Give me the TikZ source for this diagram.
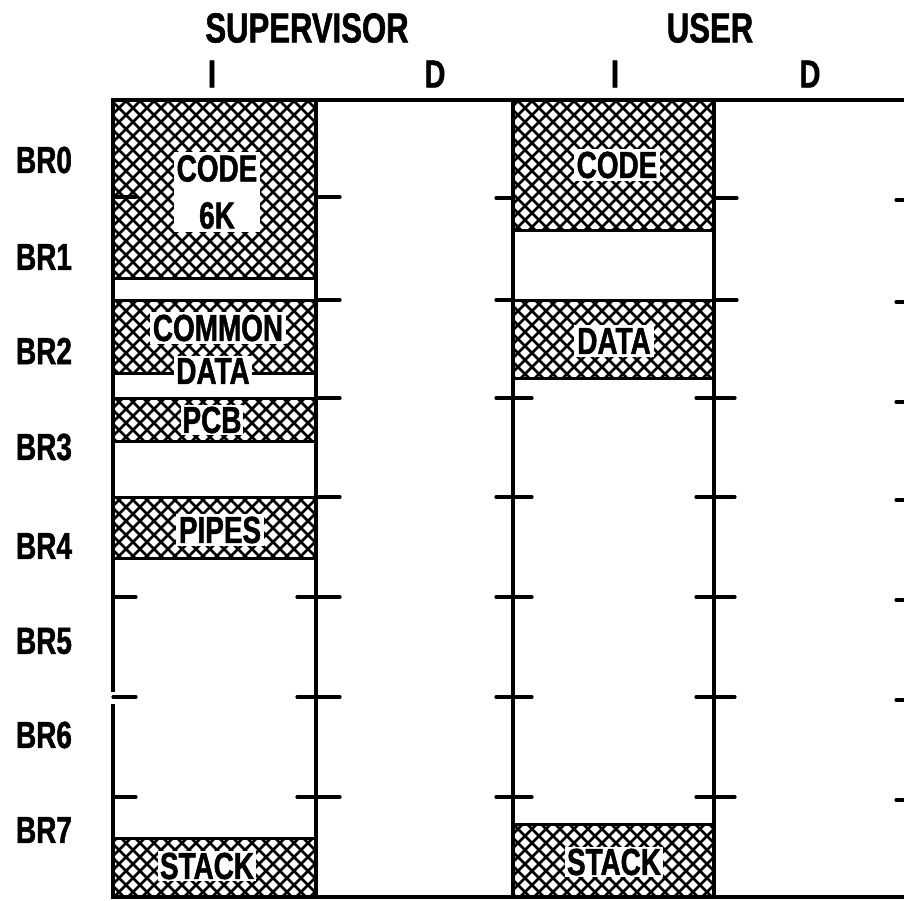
\documentclass[tikz,border=0pt]{standalone}
\usepackage{fontspec}
\newfontfamily\lab[FakeStretch=0.74, BoldFeatures={FakeBold=1.3}]{Liberation Sans}
\begin{document}
\begin{tikzpicture}[x=1pt,y=-1pt]
\tikzset{
  frame/.style={line width=4pt},
  edgeline/.style={line width=3pt},
  tickline/.style={line width=3.2pt, line cap=round},
  hatchline/.style={line width=2.6pt},
  lbl/.style={font=\lab\bfseries\fontsize{37.7}{47}\selectfont, fill=white, inner sep=3pt, align=center},
  hdr/.style={font=\lab\bfseries\fontsize{42}{50}\selectfont, inner sep=0pt},
  col/.style={font=\lab\bfseries\fontsize{39}{47}\selectfont, inner sep=0pt},
  brl/.style={font=\lab\bfseries\fontsize{37.7}{47}\selectfont, inner sep=0pt}
}
\useasboundingbox (0,0) rectangle (904,901);
\fill[white] (0,0) rectangle (904,901);

% hatching
\begin{scope}
  \clip (113,100) rectangle (316,278)
        (113,300) rectangle (316,373)
        (113,398) rectangle (316,441)
        (113,497) rectangle (316,558)
        (113,838) rectangle (316,897)
        (513,100) rectangle (714,231)
        (513,300) rectangle (714,378)
        (513,824) rectangle (714,897);
  \foreach \k in {0,...,105} {
    \pgfmathsetmacro\ca{-801+14*\k}
    \pgfmathsetmacro\cb{199+14*\k}
    \draw[hatchline] (\ca,0) -- ++(1000,1000);
    \draw[hatchline] (\cb,0) -- ++(-1000,1000);
  }
\end{scope}

% block edges (supervisor I)
\foreach \y in {278,300,373,398,441,497,558,838} {
  \draw[edgeline] (113,\y) -- (316,\y);
}
% block edges (user I)
\foreach \y in {231,300,378,824} {
  \draw[edgeline] (513,\y) -- (714,\y);
}

% outer frame and columns
\draw[frame] (113,100) -- (904,100);
\draw[frame] (113,897) -- (904,897);
\draw[frame] (113,98) -- (113,692);
\draw[frame] (113,704) -- (113,899);
\draw[frame] (316,100) -- (316,897);
\draw[frame] (513,100) -- (513,897);
\draw[frame] (714,100) -- (714,897);

% ticks x=113 (inside only)
\foreach \y in {197,597,697,797} {
  \draw[tickline] (113,\y) -- (136,\y);
}
% ticks x=316
\foreach \y in {197,300,398,497} {
  \draw[tickline] (316,\y) -- (340,\y);
}
\foreach \y in {597,697,797} {
  \draw[tickline] (297,\y) -- (340,\y);
}
% ticks x=513
\foreach \y in {198,300} {
  \draw[tickline] (496,\y) -- (513,\y);
}
\foreach \y in {398,497,597,697,797} {
  \draw[tickline] (496,\y) -- (532,\y);
}
% ticks x=714
\foreach \y in {198,300} {
  \draw[tickline] (714,\y) -- (737,\y);
}
\foreach \y in {398,497,597,697,797} {
  \draw[tickline] (696,\y) -- (735,\y);
}
% ticks at right edge
\foreach \y in {200,302,402,500,600,700,800} {
  \draw[tickline] (896,\y) -- (906,\y);
}

% labels in blocks
\node[lbl] (scode) at (217,192) {CODE\\6K};
\node[lbl] (scommon) at (218,328) {COMMON};
\node[lbl, inner sep=2pt] (sdata) at (213,371) {DATA};
\node[lbl, inner sep=2pt] (spcb) at (212,420) {PCB};
\node[lbl] (spipes) at (220,530) {PIPES};
\node[lbl, inner sep=2pt] (sstack) at (207,866) {STACK};
\node[lbl] (ucode) at (617,165) {CODE};
\node[lbl] (udata) at (614,341) {DATA};
\node[lbl, inner sep=2pt] (ustack) at (614,862) {STACK};

% headers
\node[hdr] (sup) at (307,28) {SUPERVISOR};
\node[hdr] (usr) at (710,28) {USER};
\node[col] (si) at (212,74) {I};
\node[col] (sd) at (435,74) {D};
\node[col] (ui) at (615,74) {I};
\node[col] (ud) at (810,74) {D};

% BR labels
\foreach \n/\y in {0/160,1/257,2/351,3/447,4/546,5/641,6/735,7/830} {
  \node[brl] (br\n) at (44,\y) {BR\n};
}
\end{tikzpicture}
\end{document}
